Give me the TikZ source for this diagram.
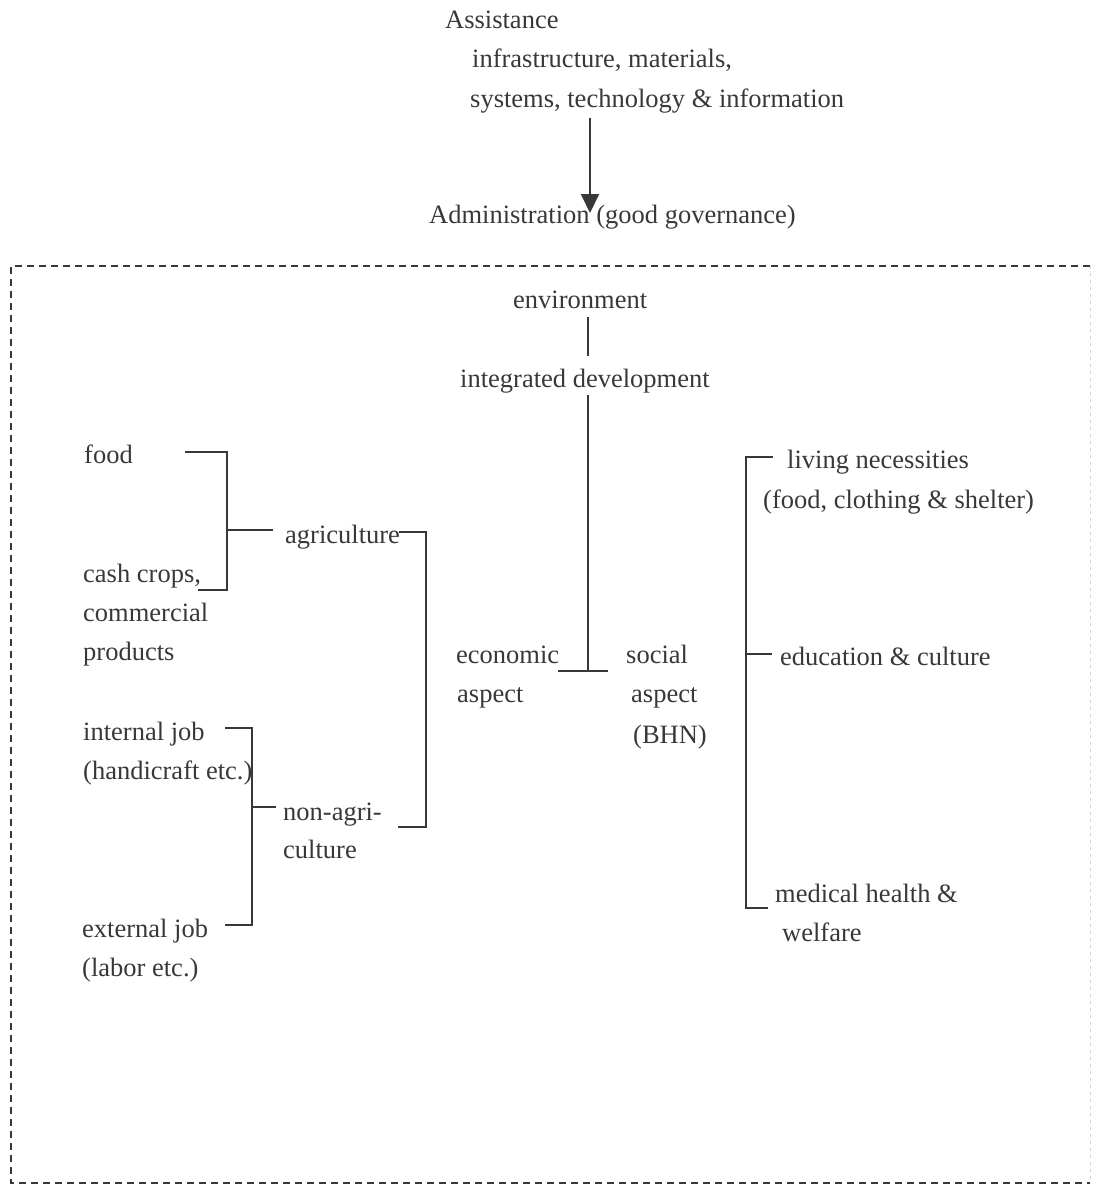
\documentclass[tikz,border=0pt]{standalone}
\usepackage{fontspec}
\setmainfont{Liberation Serif}
\usetikzlibrary{arrows.meta}
\definecolor{ink}{HTML}{383838}
\begin{document}
\begin{tikzpicture}[x=1pt,y=-1pt,
  lbl/.style={anchor=base west,inner sep=0pt,text=ink,font=\fontsize{26.5}{32}\selectfont},
  link/.style={draw=ink,line width=1.6pt},
  frame/.style={draw=ink,line width=1.4pt,dash pattern=on 7pt off 5pt}]
\useasboundingbox (0,0) rectangle (1095,1196);

% ---- top: assistance flowing into administration
\node[lbl] (assist) at (445,29) {Assistance};
\node[lbl] (infra)  at (472,68) {infrastructure, materials,};
\node[lbl] (sys)    at (470,108) {systems, technology \& information};
\node[lbl] (admin)  at (429,223) {Administration (good governance)};
\coordinate (arrS) at (590,118);
\coordinate (arrE) at (590,213);
\draw[link,line width=2pt,-{Triangle[width=18pt,length=19pt]}] (arrS) -- (arrE);

% ---- dashed frame of the development area
\draw[frame] (1090,266) -- (11,266) -- (11,1183) -- (1090,1183);
\draw[draw=gray!35,line width=1pt,dash pattern=on 3pt off 4pt] (1090,266) -- (1090,1183);

% ---- central column
\node[lbl] (env)    at (513,308) {environment};
\node[lbl] (intdev) at (460,387) {integrated development};
\coordinate (envB) at (588,317);
\coordinate (intT) at (588,356);
\draw[link] (envB) -- (intT);
\coordinate (intB) at (588,395);
\coordinate (fork) at (588,671);
\coordinate (forkL) at (558,671);
\coordinate (forkR) at (608,671);
\draw[link] (intB) -- (fork);
\draw[link] (forkL) -- (forkR);

\node[lbl] (econ1) at (456,663) {economic};
\node[lbl] (econ2) at (457,702) {aspect};
\node[lbl] (soc1)  at (626,663) {social};
\node[lbl] (soc2)  at (631,702) {aspect};
\node[lbl] (soc3)  at (633,743) {(BHN)};

% ---- economic side: agriculture
\node[lbl] (food)  at (84,463) {food};
\node[lbl] (cash1) at (83,582) {cash crops,};
\node[lbl] (cash2) at (83,621) {commercial};
\node[lbl] (cash3) at (83,660) {products};
\node[lbl] (agri)  at (285,543) {agriculture};
\coordinate (fA) at (185,452);
\coordinate (fB) at (227,452);
\coordinate (fC) at (227,590);
\coordinate (fD) at (198,590);
\coordinate (fM) at (227,530);
\coordinate (fN) at (273,530);
\draw[link] (fA) -- (fB) -- (fC) -- (fD);
\draw[link] (fM) -- (fN);

% ---- economic side: non-agriculture
\node[lbl] (int1) at (83,740) {internal job};
\node[lbl] (int2) at (83,779) {(handicraft etc.)};
\node[lbl] (ext1) at (82,937) {external job};
\node[lbl] (ext2) at (82,976) {(labor etc.)};
\node[lbl] (nona1) at (283,820) {non-agri-};
\node[lbl] (nona2) at (283,858) {culture};
\coordinate (jA) at (225,728);
\coordinate (jB) at (252,728);
\coordinate (jC) at (252,925);
\coordinate (jD) at (225,925);
\coordinate (jM) at (252,807);
\coordinate (jN) at (276,807);
\draw[link] (jA) -- (jB) -- (jC) -- (jD);
\draw[link] (jM) -- (jN);

% ---- bracket joining the two economic branches
\coordinate (eA) at (399,532);
\coordinate (eB) at (426,532);
\coordinate (eC) at (426,827);
\coordinate (eD) at (398,827);
\draw[link] (eA) -- (eB) -- (eC) -- (eD);

% ---- social side
\node[lbl] (liv1) at (787,468) {living necessities};
\node[lbl] (liv2) at (763,508) {(food, clothing \& shelter)};
\node[lbl] (edu)  at (780,665) {education \& culture};
\node[lbl] (med1) at (775,902) {medical health \&};
\node[lbl] (med2) at (782,941) {welfare};
\coordinate (sA) at (773,457);
\coordinate (sB) at (746,457);
\coordinate (sC) at (746,908);
\coordinate (sD) at (768,908);
\coordinate (sM) at (746,654);
\coordinate (sN) at (772,654);
\draw[link] (sA) -- (sB) -- (sC) -- (sD);
\draw[link] (sM) -- (sN);
\end{tikzpicture}
\end{document}
